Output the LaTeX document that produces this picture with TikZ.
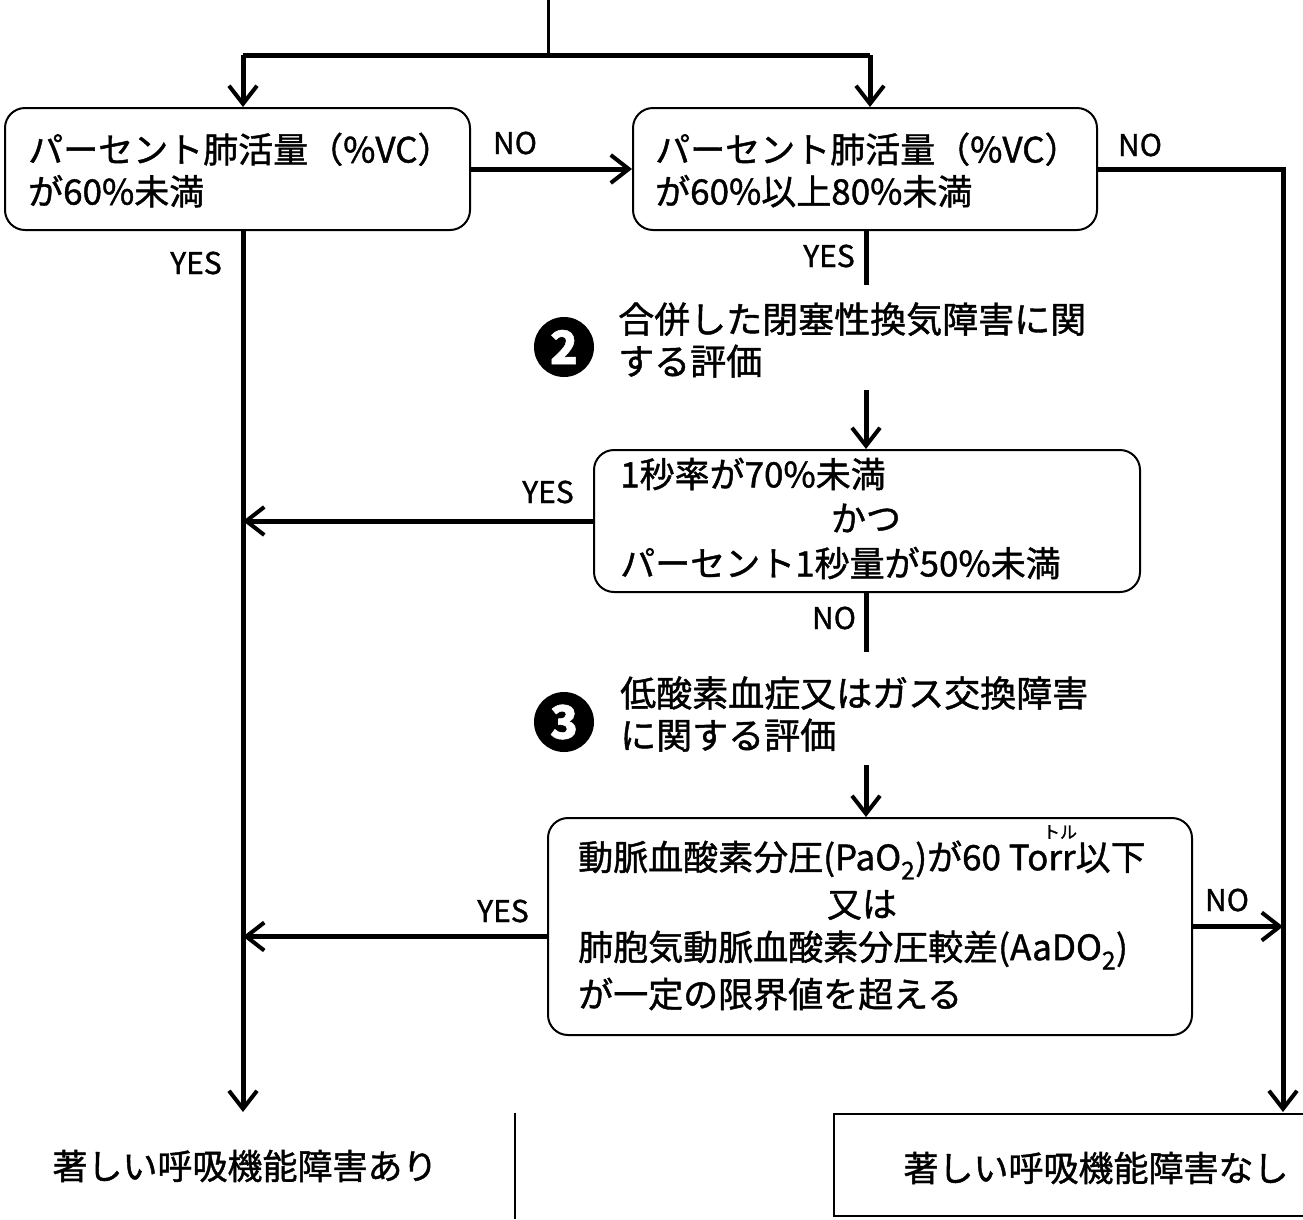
\documentclass[tikz,border=0pt]{standalone}
\usepackage{fontspec}
\setmainfont{Noto Sans CJK JP}[FakeBold=1.2]
\usetikzlibrary{arrows.meta}
\begin{document}
\begin{tikzpicture}[x=1pt,y=-1pt,
 box/.style={draw,line width=2pt,rounded corners=20pt,inner sep=0},
 txt/.style={font=\fontsize{35}{42}\selectfont,align=left,inner sep=0,anchor=west},
 htxt/.style={font=\fontsize{36}{42}\selectfont,align=left,inner sep=0,anchor=west},
 ctxt/.style={font=\fontsize{35}{42}\selectfont,inner sep=0},
 lab/.style={font=\fontsize{30}{34}\selectfont,inner sep=0},
 conn/.style={line width=5pt},
 arr/.style={line width=5pt,-{Straight Barb[length=18pt,width=28pt,line width=4pt]}},
 num/.style={circle,fill=black,text=white,minimum size=60pt,inner sep=0,font=\fontsize{46}{46}\selectfont\bfseries}]
\useasboundingbox[fill=white] (0,0) rectangle (1303,1219);

% boxes
\node[box,minimum width=465pt,minimum height=122pt] (b1) at (237.5,169) {};
\node[box,minimum width=464pt,minimum height=122pt] (b2) at (865,169) {};
\node[box,minimum width=546pt,minimum height=142pt] (b3) at (867,521) {};
\node[box,minimum width=644pt,minimum height=217pt] (b4) at (870,926.5) {};

% box texts
\node[txt] (t1) at (28,170) {パーセント肺活量（\%VC）\\が60\%未満};
\node[txt] (t2) at (655,170) {パーセント肺活量（\%VC）\\が60\%以上80\%未満};
\node[txt] (t3a) at (620,474) {1秒率が70\%未満};
\node[ctxt] (t3b) at (866,518) {かつ};
\node[txt] (t3c) at (620,563) {パーセント1秒量が50\%未満};
\node[txt] (t4a) at (578,860) {動脈血酸素分圧(PaO\textsubscript{2})が60 Torr以下};
\node[font=\fontsize{17}{17}\selectfont,inner sep=0] (ruby) at (1060,832) {トル};
\node[ctxt] (t4b) at (862,905) {又は};
\node[txt] (t4c) at (578,950) {肺胞気動脈血酸素分圧較差(AaDO\textsubscript{2})};
\node[txt] (t4d) at (578,994) {が一定の限界値を超える};

% evaluation headings
\node[num] (n2) at (564,347) {2};
\node[htxt] (h2) at (618,340) {合併した閉塞性換気障害に関\\する評価};
\node[num] (n3) at (564,722) {3};
\node[htxt] (h3) at (620,714) {低酸素血症又はガス交換障害\\に関する評価};

% coordinates
\coordinate (top) at (548,0);
\coordinate (jm) at (548,55);
\coordinate (jL) at (243,55);
\coordinate (jR) at (870,55);
\coordinate (endL) at (243,1112);
\coordinate (endR) at (1283,1112);
\coordinate (y2) at (866,285);
\coordinate (a3) at (866,390);
\coordinate (n3s) at (866,652);
\coordinate (a4) at (866,765);

% connectors
\draw[line width=3pt] (top) -- (jm);
\draw[conn] (jL) -- (jR);
\draw[arr] (jL) -- (jL |- b1.north);
\draw[arr] (jR) -- (jR |- b2.north);
\draw[arr] (b1.east) -- (b2.west);
\draw[arr] (b2.east) -| (endR);
\draw[arr] (jL |- b1.south) -- (endL);
\draw[conn] (y2 |- b2.south) -- (y2);
\draw[arr] (a3) -- (a3 |- b3.north);
\draw[arr] (b3.west) -- (b3.west -| endL);
\draw[conn] (n3s |- b3.south) -- (n3s);
\draw[arr] (a4) -- (a4 |- b4.north);
\draw[arr] ([yshift=-10pt]b4.west) -- ([yshift=-10pt]b4.west -| endL);
\draw[arr] (b4.east) -- (b4.east -| endR);

% labels
\node[lab] (lno1) at (515,143) {NO};
\node[lab] (lno2) at (1140,145) {NO};
\node[lab] (lyes1) at (196,263) {YES};
\node[lab] (lyes2) at (829,256) {YES};
\node[lab] (lyes3) at (548,492) {YES};
\node[lab] (lno3) at (834,618) {NO};
\node[lab] (lyes4) at (503,911) {YES};
\node[lab] (lno4) at (1227,900) {NO};

% results
\node[ctxt] (r1) at (245,1166) {著しい呼吸機能障害あり};
\draw[line width=1.5pt] (515,1113) -- (515,1219);
\node[draw,line width=2pt,minimum width=480pt,minimum height=102pt,inner sep=0] (r2box) at (1074,1165) {};
\node[ctxt] (r2) at (1096,1168) {著しい呼吸機能障害なし};
\end{tikzpicture}
\end{document}
